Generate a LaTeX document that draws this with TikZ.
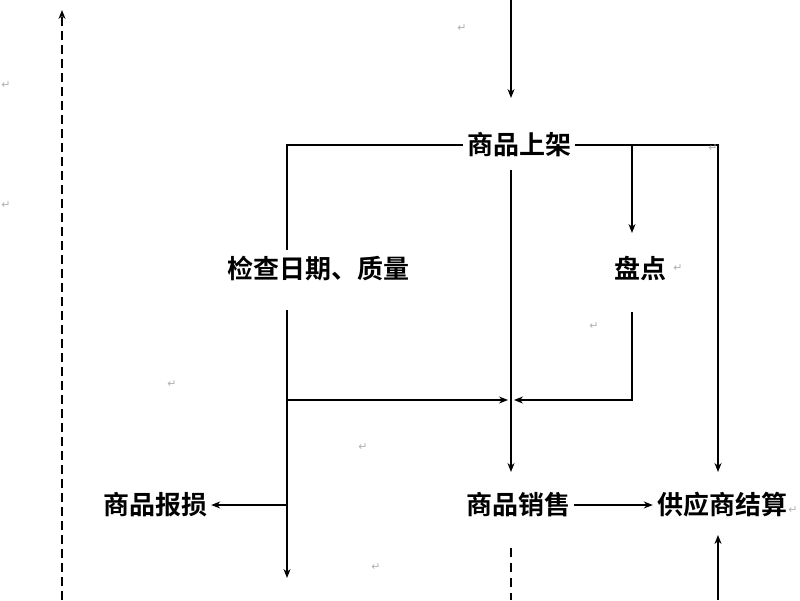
\documentclass[tikz,border=0pt]{standalone}
\usepackage{fontspec}
\newfontfamily\cjk{Noto Sans CJK SC}[BoldFont={Noto Sans CJK SC Bold}]
\newfontfamily\dv{DejaVu Sans}
\usetikzlibrary{arrows.meta}
\begin{document}
\begin{tikzpicture}[x=1pt,y=-1pt,
  lbl/.style={font=\cjk\bfseries\fontsize{26}{26}\selectfont,inner sep=4pt},
  mk/.style={font=\dv\fontsize{11}{11}\selectfont,text=gray!60,inner sep=0pt},
  ln/.style={line width=1.3pt},
  ar/.style={ln,-{Stealth[length=9pt,width=7pt]}}]
\useasboundingbox[fill=white] (0,0) rectangle (800,600);
\node[lbl] (sj) at (519,145) {商品上架};
\node[lbl] (jc) at (318,268) {检查日期、质量};
\node[lbl] (pd) at (640,268) {盘点};
\node[lbl] (bs) at (155,505) {商品报损};
\node[lbl] (xs) at (518,505) {商品销售};
\node[lbl] (gy) at (722,505) {供应商结算};
\coordinate (top) at (511,0);
\coordinate (b1) at (287,578);
\coordinate (lt) at (62,600); \coordinate (lb) at (62,10);
\coordinate (dt) at (511,548); \coordinate (db) at (511,600);
\coordinate (gb) at (718,600);
\draw[ar] (top) -- (511,98);
\draw[ln] (sj.west) -- (287,145) -- (287,250);
\draw[ar] (sj.east) -- (718,145) -- (718,472);
\draw[ar] (632,145) -- (632,233);
\draw[ar] (511,170) -- (511,472);
\draw[ar] (287,310) -- (b1);
\draw[ar] (287,400) -- (508,400);
\draw[ar] (632,312) -- (632,400) -- (514,400);
\draw[ar] (287,505) -- (bs.east);
\draw[ar] (xs.east) -- (gy.west);
\draw[ar] (gb) -- (718,535);
\draw[ln,dash pattern=on 9pt off 6pt] (dt) -- (db);
\draw[ar,dash pattern=on 9pt off 5pt] (lt) -- (lb);
\foreach \p in {(462,28),(6,85),(6,205),(594,326),(172,384),(363,447),(376,567),(713,148),(678,268),(793,510)}
  \node[mk] at \p {↵};
\end{tikzpicture}
\end{document}
